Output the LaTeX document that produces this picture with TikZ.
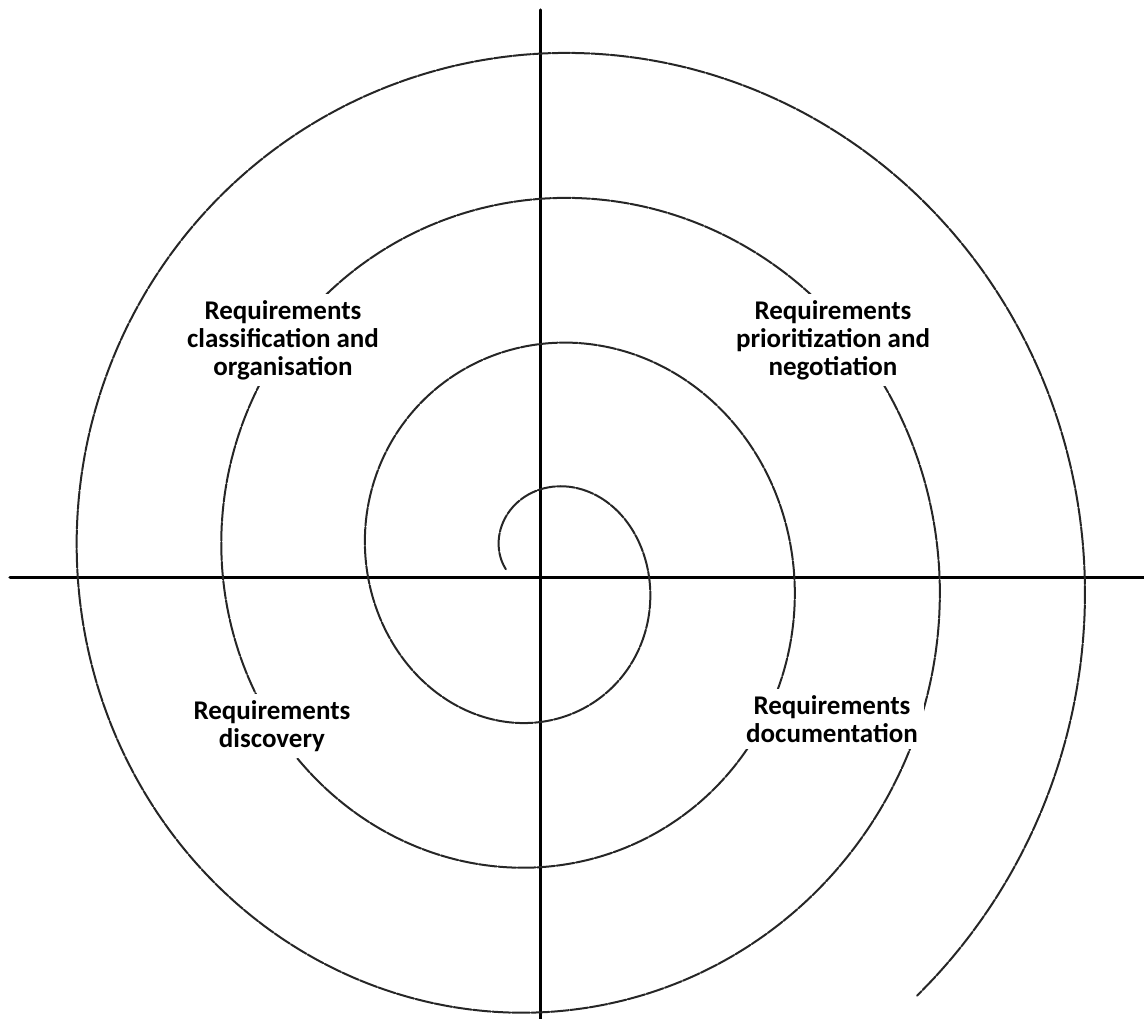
\documentclass[tikz,border=0pt]{standalone}
\usepackage{fontspec}
\setmainfont{Carlito}
\usetikzlibrary{positioning}

\begin{document}
\begin{tikzpicture}[x=1pt,y=1pt,
    axis/.style={line width=3pt,line cap=round},
    spiral/.style={line width=2pt,black!85,line cap=round,
      dash pattern=on 18pt off 1.5pt},
    stage/.style={fill=white,inner sep=6pt,align=center,
      font=\fontsize{27}{28}\selectfont\bfseries}]
  \useasboundingbox (-541,-441) rectangle (603,578);

  % axes
  \coordinate (west) at (-531,0);
  \coordinate (east) at (603,0);
  \coordinate (north) at (0,568);
  \coordinate (south) at (0,-441);
  \draw[axis] (west) -- (east);
  \draw[axis] (north) -- (south);

  % the spiral, clockwise from the centre, centre a little off the axes
  \draw[spiral] plot[domain=166:-1128,samples=500,variable=\t,smooth]
    ({\t}:{74+0.40333*(90-\t)+4*cos(\t)+8.75*sin(\t)-6.1*cos(2*\t)});

  % activities
  \node[stage] (classify) at (-258,238)
    {Requirements\\classification and\\organisation};
  \node[stage] (prioritize) at (292,238)
    {Requirements\\prioritization and\\negotiation};
  \node[stage] (discover) at (-269,-148)
    {Requirements\\discovery};
  \node[stage] (document) at (291,-141)
    {Requirements\\documentation};
\end{tikzpicture}
\end{document}
